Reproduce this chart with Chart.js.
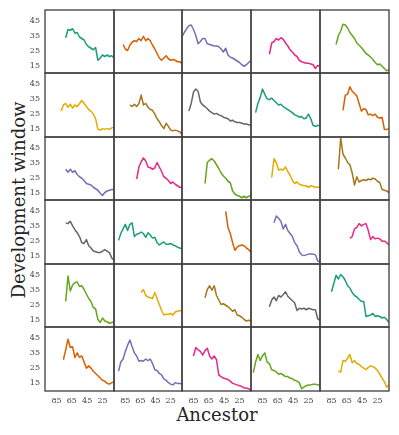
<!DOCTYPE html>
<html>
<head>
<meta charset="utf-8">
<script src="https://cdn.jsdelivr.net/npm/chart.js@4"></script>
<style>
  html, body { margin: 0; padding: 0; background: #fff; }
  #wrap { position: relative; width: 399px; height: 435px; overflow: hidden; background: #fff; }
  #wrap canvas { position: absolute; }
  .title { position: absolute; font-family: "DejaVu Serif", serif; font-size: 18px; line-height: 18px; color: #262626; white-space: nowrap; }
  #ytitle { left: 18.5px; top: 200px; transform: translate(-50%, -50%) rotate(-90deg); }
  #xtitle { left: 217px; top: 406px; transform: translateX(-50%); }
</style>
</head>
<body>
<div id="wrap">
  <div class="title" id="ytitle">Development window</div>
  <div class="title" id="xtitle">Ancestor</div>
</div>
<script>
const _ = null;

// ancestor generation on the x axis (plotted reversed, 100 -> 10)
const ancestor = [100, 97, 94, 91, 88, 85, 82, 79, 76, 73, 70, 67, 64, 61, 58, 55,
                  52, 49, 46, 43, 40, 37, 34, 31, 28, 25, 22, 19, 16, 13, 10];
const xTicks = [85, 65, 45, 25];
const yTicks = [15, 25, 35, 45];

// development window per panel, row by row
const panel01 = [_,_,_,_,_,_,_,_,_, 33.5,39,38.5,39.5,36.5,37,34,33,32,29,27.5,26.5,25.5,27,18.5,20,22,21,22,21,21.5,20];
const panel02 = [_,_,_,_, 29,26,25,28.5,30.5,31.5,31,33,31.5,34.5,31.5,33,31.5,28.5,26,23,20,18.5,20,21.5,19.5,18.5,19,18.5,17.5,17.5,16.5];
const panel03 = [34,37,39.5,41.5,42,39,35,29.5,31,33,33,29.5,29,28.5,28,28,27.5,26,24,26.5,22,20.5,20,19,18,17,15.5,14.5,15.5,17,18.5];
const panel04 = [_,_,_,_,_,_,_,_, 22.5,30,31,33,32,33.5,32.5,30,28,25.5,24,22,21,18.5,17.5,17,16.5,16.5,16,15.5,13,15,14.5];
const panel05 = [_,_,_,_,_,_,_, 29,35,38,42.5,42,40,37,35,33,30,28.5,27,25,23,22,20.5,19,17,15.5,16,14.5,13,11.5,12];

const panel06 = [_,_,_,_,_,_,_, 27,31,32,29.5,31.5,29,31,30,32,34,32,30,28,27,25,22,15,14.5,15.5,15,15.5,15,16,16.5];
const panel07 = [_,_,_,_,_,_,_, 31,30,31.5,30,32,37.5,31,32,29.5,28,27.5,25,22,20,17.5,15.5,19,17,14.5,14,14.5,14,13.5,11.5];
const panel08 = [_,_,_, 27,32,39.5,41.5,40,33,31,30,28.5,27,26,25,25.5,24.5,24,23,22.5,22,20.5,21,20,19.5,19.5,19,18.5,18.5,18,17.5];
const panel09 = [_,_, 26,32,36,41.5,38,35,34.5,35.5,34,32.5,31,31.5,30,29,28,27,26,24.5,24,23,23.5,22,22.5,25,22,17.5,17,17.5,17.5];
const panel10 = [_,_,_,_,_,_,_,_,_,_, 27.5,37.5,38,43,40,38.5,37,32,27,28.5,28,24.5,25,24,25,23,22.5,23,15,15,15.5];

const panel11 = [_,_,_,_,_,_,_,_,_, 30.5,28.5,30.5,28.5,29.5,27,25.5,24.5,23,21,20.5,20,18.5,17.5,16.5,14.5,13,15,16,16.5,17,17];
const panel12 = [_,_,_,_,_,_,_,_,_,_, 24,32,35.5,38,36,32,31.5,30.5,31.5,35,32,29,25.5,24.5,23,21,22,20.5,19.5,18.5,18.5];
const panel13 = [_,_,_,_,_,_,_,_,_,_, 21,35,36.5,37.5,36,33.5,31,28,26,24.5,22.5,21.5,16,14,13,12.5,11.5,12.5,11.5,12.5,13];
const panel14 = [_,_,_,_,_,_,_,_,_, 25,37.5,35,30,30.5,30,32,29,26.5,23,21,22,20.5,20,19.5,19.5,18.5,19.5,19,18.5,18.5,18.5];
const panel15 = [_,_,_,_,_,_,_,_, 30.5,51.5,40.5,38,35,33.5,28,20,25.5,22,23,23.5,23,24,23.5,24.5,24,22.5,21.5,17,16.5,16,15];

const panel16 = [_,_,_,_,_,_,_,_,_, 37,36.5,38,35,32.5,30.5,28,24,23.5,26,22,20.5,18.5,18,17.5,17.5,18.5,19.5,18.5,17.5,14,12.5];
const panel17 = [_,_, 25.5,30,33,36,32,36,37,28,29.5,30,31,30,27.5,30.5,29,27,27.5,24,22.5,23.5,24.5,23,23,23.5,22.5,22,21,20.5,20];
const panel18 = [_,_,_,_,_,_,_,_,_,_,_,_,_,_,_,_,_,_,_, 44.5,34,30,24,19,21,22,22.5,22,20.5,19.5,17.5];
const panel19 = [_,_,_,_,_,_,_,_,_,_, 37,41.5,40,38,33,36,32,30,28,24,22,18,16,15.5,16,16.5,16.5,16.5,16,12,11.5];
const panel20 = [_,_,_,_,_,_,_,_,_,_,_,_,_, 27,28,33,34,36.5,35,36,36.5,32,26,28,26.5,27,26.5,25,25,24,22.5];

const panel21 = [_,_,_,_,_,_,_,_,_, 27,44,34,38,39.5,40,37,37.5,35,32,29,27,23,22,15,13,16,14,13.5,12.5,13,13.5];
const panel22 = [_,_,_,_,_,_,_,_,_,_,_,_, 33,35,31,30,29.5,29,33,29,25,21,18,18.5,18.5,19,18,20,20.5,21,20.5];
const panel23 = [_,_,_,_,_,_,_,_,_,_, 29.5,35,37.5,34.5,37.5,31,28,25,25.5,24.5,23.5,22,20.5,21.5,18,17.5,16.5,15,14,14.5,14];
const panel24 = [_,_,_,_,_,_,_,_, 23.5,28,30,27.5,31,30,31.5,33.5,30.5,29,27.5,26,21,22.5,22,22.5,21.5,22.5,22,21.5,21.5,15.5,14.5];
const panel25 = [_,_,_,_,_, 33.5,39,44.5,42,45,43.5,41,37.5,36,33,31,30,28.5,27,27,17,17.5,18,19,17,17.5,17,16,16.5,15,13];

const panel26 = [_,_,_,_,_,_,_,_, 30.5,37,44,38.5,39,32,35,32,33,29,25,26.5,25,23,21.5,20,18.5,17,16.5,15,14.5,15.5,16];
const panel27 = [_,_, 23,29,31,36,40,43.5,39,35,33,29.5,30,29.5,31,30,31,28,24,23.5,21.5,20.5,18,17,15.5,14.5,14,15.5,15,15,14.5];
const panel28 = [_,_,_,_,_, 33,38.5,37,36,33.5,36.5,38,33,31,33,30.5,20.5,19.5,18.5,18,17.5,16.5,15,14.5,14,13.5,13,12,12,11.5,10.5];
const panel29 = [_, 22,29,34,30,33,35,29,28,24,23.5,22.5,21,21.5,20.5,19.5,19.5,18.5,18,17,16.5,15.5,11.5,12.5,13.5,14,14,14.5,14.5,14,14];
const panel30 = [_,_,_,_,_,_,_,_, 23,22.5,30,29.5,31.5,34,28.5,30,28,27.5,26,25,24,25.5,26.5,26,25,23.5,21,18.5,16,12.5,14];

const panels = [
  panel01, panel02, panel03, panel04, panel05,
  panel06, panel07, panel08, panel09, panel10,
  panel11, panel12, panel13, panel14, panel15,
  panel16, panel17, panel18, panel19, panel20,
  panel21, panel22, panel23, panel24, panel25,
  panel26, panel27, panel28, panel29, panel30
];

// Dark2, cycled through the panels
const palette = ['#1b9e77', '#d95f02', '#7570b3', '#e7298a', '#66a61e', '#e6ab02', '#a6761d', '#666666'];

// grid geometry (page pixels)
const colEdges = [45, 114, 182, 251, 320, 389];
const rowEdges = [10, 73, 137, 200, 264, 327, 391];
const PAGE_H = 435;
const M = 2;

const tickFont = { family: 'DejaVu Serif', size: 8 };
const tickColor = '#444444';

// draws the box around each small panel
const panelBox = {
  id: 'panelBox',
  afterDraw(chart) {
    const { ctx, chartArea: a } = chart;
    ctx.save();
    ctx.strokeStyle = '#3d3d3d';
    ctx.lineWidth = 1.3;
    ctx.strokeRect(a.left, a.top, a.right - a.left, a.bottom - a.top);
    ctx.restore();
  }
};

// the tick labels sit well inside the axis range, so no overflow room is needed
function noLabelPadding(s) {
    s.paddingTop = 0;
    s.paddingBottom = 0;
    s.paddingLeft = 0;
    s.paddingRight = 0;
}

const wrap = document.getElementById('wrap');

panels.forEach((series, k) => {
    const r = Math.floor(k / 5);
    const c = k % 5;
    const showY = c === 0;
    const showX = r === 5;

    const left = showY ? 0 : colEdges[c] - M;
    const top = rowEdges[r] - M;
    const right = colEdges[c + 1] + M;
    const bottom = showX ? PAGE_H : rowEdges[r + 1] + M;

    const canvas = document.createElement('canvas');
    canvas.width = right - left;
    canvas.height = bottom - top;
    canvas.style.left = left + 'px';
    canvas.style.top = top + 'px';
    canvas.style.width = (right - left) + 'px';
    canvas.style.height = (bottom - top) + 'px';
    wrap.appendChild(canvas);

    const color = palette[k % palette.length];
    const points = ancestor.map((a, i) => ({ x: a, y: series[i] }));

    new Chart(canvas, {
        type: 'line',
        data: {
            datasets: [{
                data: points,
                borderColor: color,
                backgroundColor: color,
                borderWidth: 1.5,
                borderJoinStyle: 'round',
                pointRadius: 0,
                tension: 0,
                spanGaps: false,
                fill: false,
            }]
        },
        options: {
            responsive: false,
            maintainAspectRatio: false,
            animation: false,
            devicePixelRatio: 1,
            layout: {
                padding: { left: showY ? 0 : M, right: M, top: M, bottom: showX ? 0 : M }
            },
            plugins: {
                legend: { display: false },
                tooltip: { enabled: false },
            },
            scales: {
                x: {
                    type: 'linear',
                    reverse: true,
                    min: 10,
                    max: 100,
                    display: showX,
                    grid: { display: false, drawTicks: false },
                    border: { display: false },
                    ticks: { font: tickFont, color: tickColor, padding: 5, autoSkip: false, maxRotation: 0 },
                    afterBuildTicks: (s) => { s.ticks = xTicks.map(v => ({ value: v })); },
                    afterFit: (s) => {
                        noLabelPadding(s);
                        if (showX) s.height = PAGE_H - rowEdges[6];
                    },
                },
                y: {
                    type: 'linear',
                    min: 10,
                    max: 52,
                    display: showY,
                    grid: { display: false, drawTicks: false },
                    border: { display: false },
                    ticks: { font: tickFont, color: tickColor, padding: 5, autoSkip: false },
                    afterBuildTicks: (s) => { s.ticks = yTicks.map(v => ({ value: v })); },
                    afterFit: (s) => {
                        noLabelPadding(s);
                        if (showY) s.width = colEdges[0];
                    },
                }
            }
        },
        plugins: [panelBox]
    });
});
</script>
</body>
</html>
